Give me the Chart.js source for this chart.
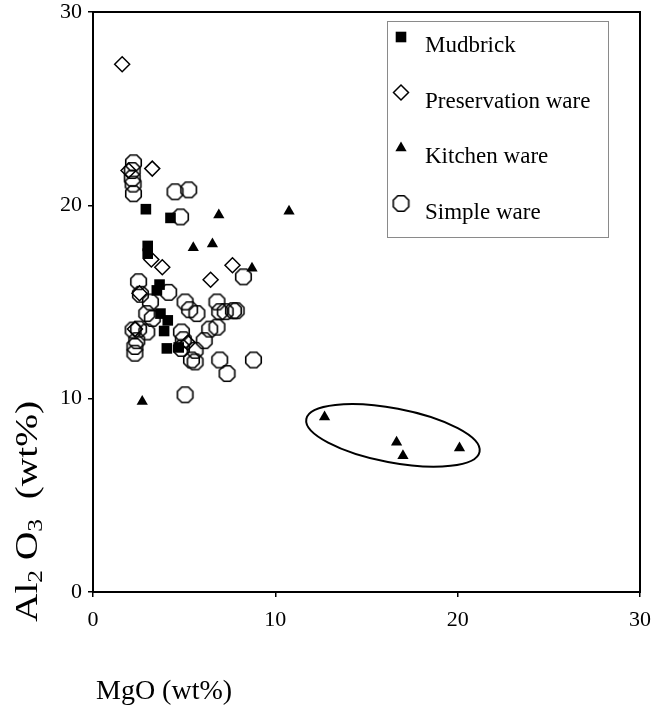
<!DOCTYPE html>
<html><head><meta charset="utf-8">
<script src="https://cdn.jsdelivr.net/npm/chart.js@4.4.0/dist/chart.umd.min.js"></script>
<style>html,body{margin:0;padding:0;background:#fff}#wrap{width:652px;height:716px}</style>
</head><body><div id="wrap"><canvas id="c" width="652" height="716"></canvas></div>
<script>
// ---- data ----
const seriesNames = ['Mudbrick', 'Preservation ware', 'Kitchen ware', 'Simple ware'];
const xTitle = 'MgO (wt%)';
const xTicks = [0, 10, 20, 30];
const yTicks = [0, 10, 20, 30];

const mudbrickMgO   = [2.9, 4.25, 3.0, 3.0, 3.65, 3.5, 3.7, 4.1, 3.9, 4.05, 4.7];
const mudbrickAl2O3 = [19.8, 19.35, 17.9, 17.5, 15.9, 15.6, 14.4, 14.05, 13.5, 12.6, 12.65];

const preservMgO   = [1.6, 1.95, 3.25, 3.2, 3.8, 7.65, 6.45, 2.55, 2.3, 5.2];
const preservAl2O3 = [27.3, 21.8, 21.9, 17.2, 16.8, 16.9, 16.15, 15.45, 13.6, 12.9];

const kitchenMgO   = [6.9, 10.75, 5.5, 6.55, 8.72, 2.7, 12.7, 16.65, 17.0, 20.1];
const kitchenAl2O3 = [19.5, 19.7, 17.8, 18.0, 16.75, 9.85, 9.05, 7.75, 7.05, 7.45];

const simpleMgO = [2.22, 2.15, 2.15, 2.2, 2.22, 4.5, 5.25, 4.8,
  2.5, 2.6, 3.15, 4.15, 5.05, 5.3, 5.7, 2.95, 3.25,
  2.2, 2.5, 2.95, 2.4, 2.3, 2.3, 4.85, 4.95,
  8.25, 6.8, 6.95, 7.25, 7.7, 7.85, 6.8, 6.4, 6.1,
  4.85, 5.4, 5.6, 5.6, 6.95, 7.35, 8.8, 5.05];
const simpleAl2O3 = [22.2, 21.8, 21.4, 21.1, 20.6, 20.7, 20.8, 19.4,
  16.05, 15.4, 15.0, 15.5, 15.0, 14.6, 14.4, 14.4, 14.15,
  13.55, 13.6, 13.45, 13.0, 12.7, 12.35, 13.45, 13.05,
  16.3, 15.0, 14.5, 14.5, 14.55, 14.55, 13.7, 13.6, 13.0,
  12.6, 12.0, 12.5, 11.9, 12.0, 11.3, 12.0, 10.2];

// circled group (ellipse around the high-MgO kitchen ware): ends of long axis, half minor axis (Al2O3 units)
const ellipseMgO = [11.7, 21.2];
const ellipseAl2O3 = [8.95, 7.25];
const ellipseHalfMinor = 1.4;

// ---- helpers ----
function zip(xs, ys) { return xs.map((x, i) => ({x: x, y: ys[i]})); }
function octagon(size, lw) {
  const c = document.createElement('canvas');
  c.width = size; c.height = size;
  const g = c.getContext('2d');
  const r = size / 2 - lw / 2 - 0.3, cx = size / 2, cy = size / 2;
  g.beginPath();
  for (let i = 0; i < 8; i++) {
    const a = Math.PI / 8 + i * Math.PI / 4;
    const px = cx + r * Math.cos(a), py = cy + r * Math.sin(a);
    if (i === 0) g.moveTo(px, py); else g.lineTo(px, py);
  }
  g.closePath();
  g.lineWidth = lw; g.strokeStyle = '#000'; g.stroke();
  return c;
}
const octImg = octagon(19, 1.6);
const SERIF = '"Liberation Serif", "Times New Roman", serif';

const datasets = [
  {label: seriesNames[0], data: zip(mudbrickMgO, mudbrickAl2O3), pointStyle: 'rect', pointRadius: 7.5,
   backgroundColor: '#000', borderColor: '#000', borderWidth: 0},
  {label: seriesNames[1], data: zip(preservMgO, preservAl2O3), pointStyle: 'rectRot', pointRadius: 7.5,
   backgroundColor: 'rgba(255,255,255,0)', borderColor: '#000', borderWidth: 1.5},
  {label: seriesNames[2], data: zip(kitchenMgO, kitchenAl2O3), pointStyle: 'triangle', pointRadius: 6.5,
   backgroundColor: '#000', borderColor: '#000', borderWidth: 0},
  {label: seriesNames[3], data: zip(simpleMgO, simpleAl2O3), pointStyle: octImg, pointRadius: 9,
   backgroundColor: 'rgba(255,255,255,0)', borderColor: '#000', borderWidth: 1.5}
];

const decor = {
  id: 'decor',
  beforeDatasetsDraw(chart) {
    const ctx = chart.ctx, xs = chart.scales.x, ys = chart.scales.y;
    const x1 = xs.getPixelForValue(ellipseMgO[0]), y1 = ys.getPixelForValue(ellipseAl2O3[0]);
    const x2 = xs.getPixelForValue(ellipseMgO[1]), y2 = ys.getPixelForValue(ellipseAl2O3[1]);
    const cx = (x1 + x2) / 2, cy = (y1 + y2) / 2;
    const a = Math.hypot(x2 - x1, y2 - y1) / 2;
    const b = Math.abs(ys.getPixelForValue(0) - ys.getPixelForValue(ellipseHalfMinor));
    ctx.save();
    ctx.beginPath();
    ctx.ellipse(cx, cy, a, b, Math.atan2(y2 - y1, x2 - x1), 0, Math.PI * 2);
    ctx.lineWidth = 2; ctx.strokeStyle = '#000'; ctx.stroke();
    ctx.restore();
  },
  afterDraw(chart) {
    const ctx = chart.ctx, ca = chart.chartArea;
    ctx.save();
    // frame
    ctx.lineWidth = 2; ctx.strokeStyle = '#000';
    ctx.strokeRect(ca.left, ca.top, ca.right - ca.left, ca.bottom - ca.top);
    // legend box
    ctx.lineWidth = 1; ctx.strokeStyle = '#8a8a8a';
    ctx.strokeRect(387.5, 21.5, 221, 216);
    const mx = 401, tx = 425, my0 = 37, ty0 = 46, dy = 55.5;
    ctx.font = '23px ' + SERIF; ctx.fillStyle = '#000'; ctx.textBaseline = 'middle'; ctx.textAlign = 'left';
    chart.data.datasets.forEach((ds, i) => {
      const my = my0 + i * dy;
      ctx.fillStyle = ds.backgroundColor; ctx.strokeStyle = ds.borderColor; ctx.lineWidth = ds.borderWidth;
      Chart.helpers.drawPoint(ctx, {pointStyle: ds.pointStyle, radius: ds.pointRadius, borderWidth: ds.borderWidth, rotation: 0}, mx, my);
      ctx.fillStyle = '#000';
      ctx.fillText(ds.label, tx, ty0 + i * dy);
    });
    // x title
    ctx.font = '28px ' + SERIF; ctx.textAlign = 'left'; ctx.textBaseline = 'middle';
    ctx.fillText(xTitle, 96, 692);
    // y title with subscripts, rotated (stretched along its length as in the reference)
    ctx.translate(37, 622);
    ctx.rotate(-Math.PI / 2);
    ctx.scale(1.27, 1);
    let px = 0;
    const parts = [['Al', 31, 0], ['2', 20, 5], [' O', 31, 0], ['3', 20, 5], ['  (wt%)', 31, 0]];
    ctx.textBaseline = 'alphabetic';
    parts.forEach(p => {
      ctx.font = p[1] + 'px ' + SERIF;
      ctx.fillText(p[0], px, 0 + p[2]);
      px += ctx.measureText(p[0]).width;
    });
    ctx.restore();
  }
};

new Chart(document.getElementById('c'), {
  type: 'scatter',
  data: {datasets: datasets},
  options: {
    responsive: false, animation: false, devicePixelRatio: 1,
    layout: {padding: {top: 12, right: 12, left: 0, bottom: 0}},
    plugins: {legend: {display: false}, tooltip: {enabled: false}},
    scales: {
      x: {
        type: 'linear', min: xTicks[0], max: xTicks[xTicks.length - 1],
        afterBuildTicks: s => { s.ticks = xTicks.map(v => ({value: v})); },
        afterFit: s => { s.height = 124; s.paddingLeft = 0; s.paddingRight = 12; },
        ticks: {color: '#000', font: {family: SERIF, size: 22}, padding: 10},
        grid: {drawOnChartArea: false, drawTicks: true, tickLength: 5, color: '#000', lineWidth: 1.5},
        border: {display: true, color: '#000', width: 2}
      },
      y: {
        type: 'linear', min: yTicks[0], max: yTicks[yTicks.length - 1],
        afterBuildTicks: s => { s.ticks = yTicks.map(v => ({value: v})); },
        afterFit: s => { s.width = 93; s.paddingTop = 12; s.paddingBottom = 0; },
        ticks: {color: '#000', font: {family: SERIF, size: 22}, padding: 6},
        grid: {drawOnChartArea: false, drawTicks: true, tickLength: 5, color: '#000', lineWidth: 1.5},
        border: {display: true, color: '#000', width: 2}
      }
    }
  },
  plugins: [decor]
});
</script>
</body></html>
